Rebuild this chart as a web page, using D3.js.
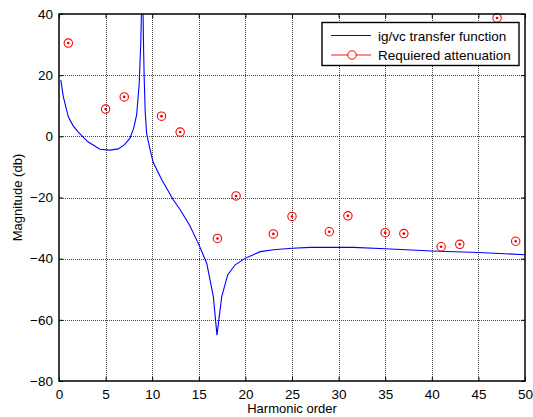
<!DOCTYPE html>
<html>
<head>
<meta charset="utf-8">
<script src="https://cdn.jsdelivr.net/npm/d3@7"></script>
<style>
  body { margin: 0; background: #fff; }
  svg { font-family: "Liberation Sans", Arial, sans-serif; }
</style>
</head>
<body>
<svg width="533" height="417"></svg>
<script>
// transfer function samples (harmonic order, dB)
const tfOrder = [0.2, 0.46, 1.0, 1.5, 2.07, 3.1, 4.4, 5.47, 6.36, 7.0, 7.6, 8.0, 8.33, 8.6, 8.77, 8.88, 8.95,
  9.02, 9.08, 9.15, 9.25, 9.4, 9.6, 10.1, 11.0, 12.27, 13.0, 14.0, 14.95, 15.85, 16.56, 16.95, 17.46, 18.1,
  18.9, 19.96, 21.6, 23, 25, 27, 31.6, 35, 40, 45, 50];
const tfMag = [18.4, 13, 6.4, 3.5, 1.4, -1.8, -4.2, -4.5, -4.1, -2.8, -0.7, 2.5, 7, 17, 30, 45, 60,
  40, 28, 18, 8, 1, -2, -8.5, -14, -20.8, -24, -29, -35, -41.5, -52.4, -65, -52.4, -45.3,
  -42, -39.9, -37.7, -37.1, -36.6, -36.3, -36.3, -36.75, -37.5, -38, -38.7];

// required attenuation at odd harmonics
const reqOrder = [1, 5, 7, 11, 13, 17, 19, 23, 25, 29, 31, 35, 37, 41, 43, 47, 49];
const reqMag = [30.5, 8.9, 12.9, 6.6, 1.4, -33.4, -19.5, -31.9, -26.2, -31.2, -26, -31.5, -31.8, -36.1, -35.3, 38.7, -34.3];

const xTicks = d3.range(0, 51, 5);
const yTicks = d3.range(-80, 41, 20);
const legendLabels = ["ig/vc transfer function", "Requiered attenuation"];

const svg = d3.select("svg");
const m = { left: 59, right: 525, top: 14, bottom: 381 };

const x = d3.scaleLinear().domain([0, 50]).range([m.left, m.right]);
const y = d3.scaleLinear().domain([-80, 40]).range([m.bottom, m.top]);

svg.append("defs").append("clipPath").attr("id", "clip")
  .append("rect").attr("x", m.left).attr("y", m.top)
  .attr("width", m.right - m.left).attr("height", m.bottom - m.top);

// grid (matlab dotted)
const grid = svg.append("g").attr("stroke", "#444").attr("stroke-width", 1).attr("stroke-dasharray", "1,1");
grid.selectAll(".gx").data(xTicks.slice(1, -1)).enter().append("line")
  .attr("x1", d => Math.round(x(d)) + 0.5).attr("x2", d => Math.round(x(d)) + 0.5)
  .attr("y1", m.top).attr("y2", m.bottom);
grid.selectAll(".gy").data(yTicks.slice(1, -1)).enter().append("line")
  .attr("y1", d => Math.round(y(d)) + 0.5).attr("y2", d => Math.round(y(d)) + 0.5)
  .attr("x1", m.left).attr("x2", m.right);

// axes
const xAxis = svg.append("g").attr("transform", `translate(0,${m.bottom})`)
  .call(d3.axisBottom(x).tickValues(xTicks).tickSize(-4).tickPadding(8));
const xTop = svg.append("g").attr("transform", `translate(0,${m.top})`)
  .call(d3.axisTop(x).tickValues(xTicks).tickSize(-4).tickFormat(""));
const yAxis = svg.append("g").attr("transform", `translate(${m.left},0)`)
  .call(d3.axisLeft(y).tickValues(yTicks).tickSize(-4).tickPadding(6));
const yRight = svg.append("g").attr("transform", `translate(${m.right},0)`)
  .call(d3.axisRight(y).tickValues(yTicks).tickSize(-4).tickFormat(""));
[xAxis, xTop, yAxis, yRight].forEach(a => {
  a.select(".domain").remove();
  a.selectAll("line").attr("stroke", "#000");
  a.selectAll("text").attr("font-size", 13.5).attr("fill", "#000")
    .attr("font-family", "Liberation Sans, Arial, sans-serif");
});

// transfer function line
const line = d3.line().x((d, i) => x(tfOrder[i])).y(d => y(d));
svg.append("path").datum(tfMag).attr("clip-path", "url(#clip)")
  .attr("fill", "none").attr("stroke", "#0000ff").attr("stroke-width", 1.1).attr("d", line);

// markers
const pts = svg.append("g").selectAll("g").data(reqMag).enter().append("g")
  .attr("transform", (d, i) => `translate(${x(reqOrder[i])},${y(d)})`);
pts.append("circle").attr("r", 4.2).attr("fill", "none").attr("stroke", "#ff0000").attr("stroke-width", 1.1);
pts.append("circle").attr("r", 1.3).attr("fill", "#e00000");

// box
svg.append("rect").attr("x", m.left).attr("y", m.top)
  .attr("width", m.right - m.left).attr("height", m.bottom - m.top)
  .attr("fill", "none").attr("stroke", "#000").attr("stroke-width", 1.5);

// axis labels
svg.append("text").attr("x", (m.left + m.right) / 2).attr("y", 413).attr("text-anchor", "middle")
  .attr("font-size", 13).text("Harmonic order");
svg.append("text").attr("transform", `translate(22,${(m.top + m.bottom) / 2}) rotate(-90)`)
  .attr("text-anchor", "middle").attr("font-size", 13).text("Magnitude (db)");

// legend
const lg = svg.append("g");
lg.append("rect").attr("x", 322).attr("y", 22.5).attr("width", 197).attr("height", 43)
  .attr("fill", "#fff").attr("stroke", "#000").attr("stroke-width", 1.4);
lg.selectAll("text").data(legendLabels).enter().append("text")
  .attr("x", 378).attr("y", (d, i) => 40.5 + i * 19.5).attr("font-size", 13.5).text(d => d);
lg.append("line").attr("x1", 331).attr("x2", 371).attr("y1", 35.5).attr("y2", 35.5)
  .attr("stroke", "#0000ff").attr("stroke-width", 1.2);
lg.append("line").attr("x1", 331).attr("x2", 371).attr("y1", 55).attr("y2", 55)
  .attr("stroke", "#ff6060").attr("stroke-width", 1.6);
lg.append("circle").attr("cx", 352).attr("cy", 55).attr("r", 4.2)
  .attr("fill", "#fff").attr("stroke", "#ff0000");
</script>
</body>
</html>
